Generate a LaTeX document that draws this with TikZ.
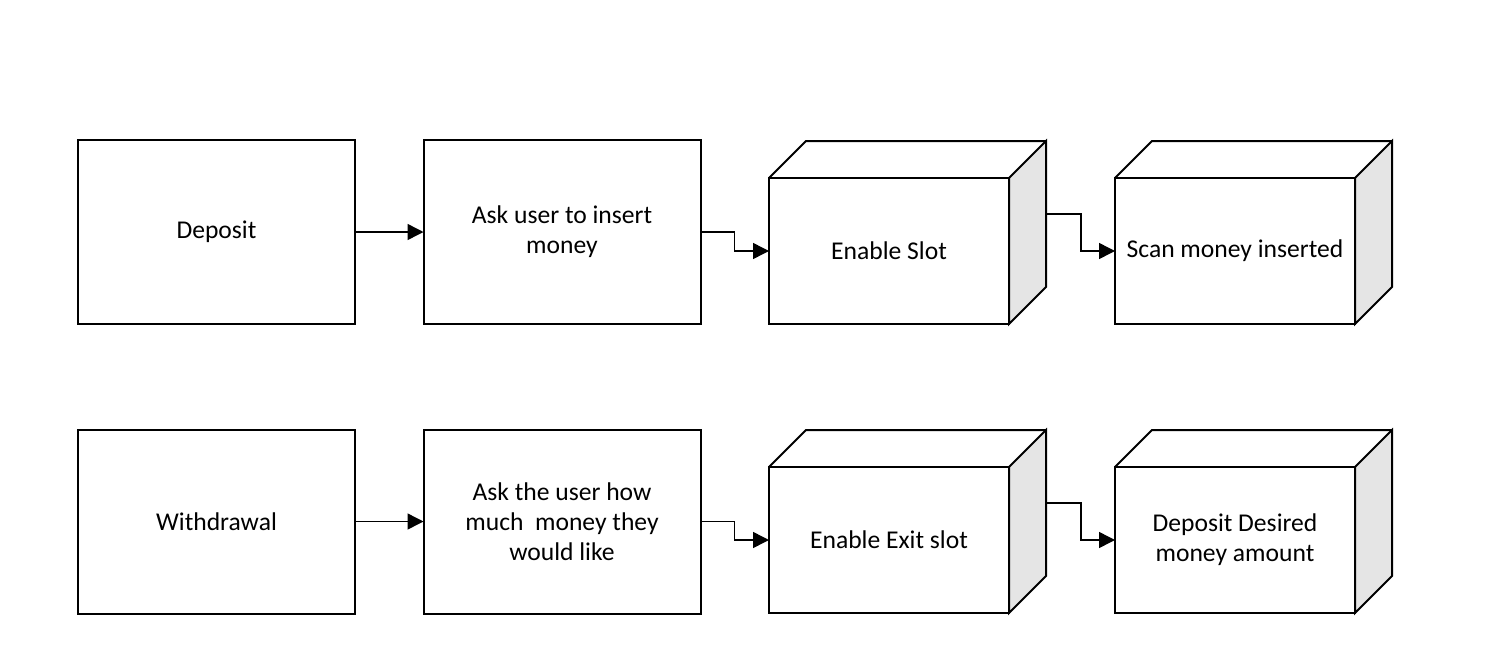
\documentclass[tikz,border=0pt]{standalone}
\usepackage{fontspec}
\setmainfont{Carlito}
\usetikzlibrary{arrows.meta}
\begin{document}
\begin{tikzpicture}[x=0.75pt, y=-0.75pt, line join=miter, >={Triangle[length=12pt,width=12pt]},
  box/.style={draw, line width=1.5pt, outer sep=0pt, inner sep=0pt, minimum width=207.75pt,
    minimum height=138pt, align=center, font=\fontsize{19.2}{22.5}\selectfont},
  front/.style={box, minimum width=180pt, minimum height=109.5pt},
  link/.style={->, line width=1.1pt}]
\useasboundingbox (0,0) rectangle (1504,668);

% draw the plain boxes
\node[box] (dep) at (216.5,232) {Deposit};
\node[box] (ask) at (562,232) {Ask user to insert\\money};
\node[box] (wdr) at (216.5,521.5) {Withdrawal};
\node[box] (how) at (562,521.5) {Ask the user how\\much\ \ money they\\would like};

% draw the front of each cube
\node[front] (slot) at (889,251) {Enable Slot};
\node[front] (scan) at (1235,251) {Scan money inserted};
\node[front] (exit) at (889,540) {Enable Exit slot};
\node[front] (give) at (1235,540) {Deposit Desired\\money amount};

\foreach \c in {slot,scan,exit,give} {
% top face
\draw[line width=1.5pt] (\c.north west) -- ++(37,-37) -- ++(240,0);
% side face, shaded
\filldraw[fill=gray!20, line width=1.5pt] (\c.north east) -- ++(37,-37) -- ++(0,146)
  -- (\c.south east) -- cycle;
% back edge where the next link starts
\coordinate (\c-b) at ([shift={(37,-37)}]\c.east);
}

% draw the links
\draw[link] (dep) -- (ask);
\draw[link] (ask.east) -- ++(34,0) |- (slot.west);
\draw[link] (slot-b) -- ++(35,0) |- (scan.west);
\draw[link] (wdr) -- (how);
\draw[link] (how.east) -- ++(34,0) |- (exit.west);
\draw[link] (exit-b) -- ++(35,0) |- (give.west);
\end{tikzpicture}
\end{document}
